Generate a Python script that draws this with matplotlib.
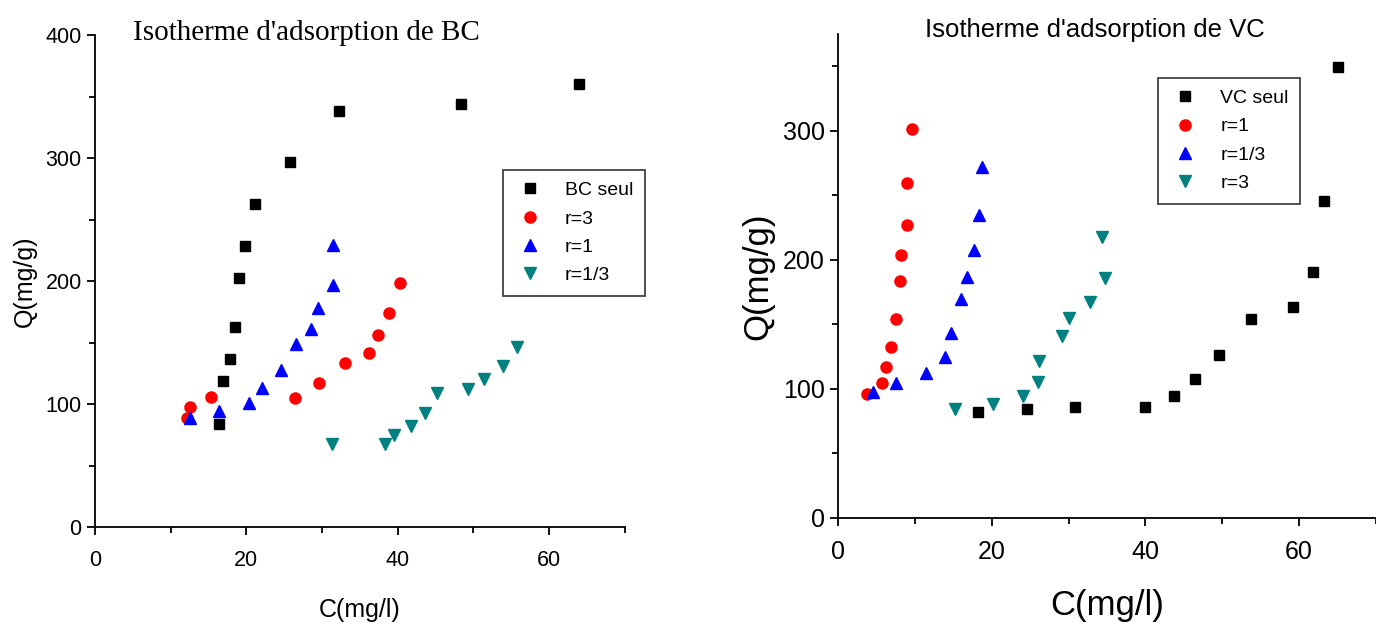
import matplotlib
matplotlib.use("Agg")
import matplotlib.pyplot as plt
from matplotlib.ticker import MultipleLocator

plt.rcParams['font.family'] = ['Liberation Sans', 'DejaVu Sans']

# --- BC isotherm (left panel) ---
bc_seul_c = [16.4, 16.9, 17.9, 18.5, 19.0, 19.8, 21.2, 25.8, 32.3, 48.4, 64.0]
bc_seul_q = [83.8, 118.9, 137, 163, 202.4, 228.9, 262.4, 296.5, 338.6, 343.8, 360.3]
bc_r3_c = [12.1, 12.6, 15.4, 26.5, 29.6, 33.1, 36.2, 37.4, 38.9, 40.3]
bc_r3_q = [88.6, 97.8, 105.9, 105.4, 117.6, 133.8, 141.9, 156.5, 174.3, 198.6]
bc_r1_c = [12.6, 16.4, 20.3, 22.1, 24.6, 26.6, 28.6, 29.5, 31.5, 31.5]
bc_r1_q = [89.2, 94.6, 101.4, 113.5, 127.6, 148.6, 160.8, 178.1, 197.3, 229.7]
bc_r13_c = [31.3, 38.3, 39.5, 41.8, 43.6, 45.2, 49.3, 51.4, 53.9, 55.8]
bc_r13_q = [67.6, 67.6, 75.1, 82.4, 93.2, 108.9, 112.2, 120.8, 131.1, 146.8]

# --- VC isotherm (right panel) ---
vc_seul_c = [18.2, 24.6, 30.9, 40.0, 43.7, 46.4, 49.6, 53.7, 59.2, 61.8, 63.2, 65.1]
vc_seul_q = [82.0, 84.3, 86.3, 85.8, 94.1, 107.5, 126.3, 154.1, 163.4, 190.5, 245.4, 349.7]
vc_r1_c = [3.8, 5.7, 6.2, 6.9, 7.5, 8.1, 8.2, 9.0, 9.0, 9.6]
vc_r1_q = [96.1, 104.6, 117.0, 132.7, 154.1, 183.5, 203.6, 227.3, 259.5, 301.0]
vc_r13_c = [4.5, 7.5, 11.5, 13.9, 14.7, 16.0, 16.8, 17.7, 18.4, 18.7]
vc_r13_q = [97.2, 104.4, 112.1, 124.5, 143.6, 169.3, 186.3, 207.5, 234.5, 271.9]
vc_r3_c = [15.2, 20.2, 24.1, 26.0, 26.2, 29.2, 30.1, 32.8, 34.8, 34.4]
vc_r3_q = [84.3, 88.4, 94.6, 104.9, 121.9, 141.0, 154.6, 167.0, 185.6, 217.8]

teal = '#008080'

fig = plt.figure(figsize=(13.76, 6.27), dpi=100)
ax1 = fig.add_axes([0.069, 0.159, 0.385, 0.785])
ax2 = fig.add_axes([0.609, 0.174, 0.391, 0.772])


def style_axes(ax, ylim, tick_size, lab_size, xpad, lpad):
    ax.spines['top'].set_visible(False)
    ax.spines['right'].set_visible(False)
    ax.spines['left'].set_linewidth(1.3)
    ax.spines['bottom'].set_linewidth(1.3)
    ax.set_xlim(0, 70)
    ax.set_ylim(0, ylim)
    ax.xaxis.set_major_locator(MultipleLocator(20))
    ax.xaxis.set_minor_locator(MultipleLocator(10))
    ax.yaxis.set_major_locator(MultipleLocator(100))
    ax.yaxis.set_minor_locator(MultipleLocator(50))
    ax.tick_params(which='major', direction='out', length=6, width=1.3,
                   labelsize=tick_size)
    ax.tick_params(axis='x', which='major', pad=xpad)
    ax.tick_params(which='minor', direction='out', length=4, width=1.3)
    ax.set_xlabel('C(mg/l)', fontsize=lab_size, labelpad=lpad)
    ax.set_ylabel('Q(mg/g)', fontsize=lab_size, labelpad=6)


style_axes(ax1, 400, 15.5, 18, 10, 20)
style_axes(ax2, 375, 18, 25, 10, 18)

ms = 7
ax1.plot(bc_seul_c, bc_seul_q, 's', color='black', ms=ms, label='BC seul')
ax1.plot(bc_r3_c, bc_r3_q, 'o', color='red', ms=ms + 1, label='r=3')
ax1.plot(bc_r1_c, bc_r1_q, '^', color='blue', ms=ms + 1, label='r=1')
ax1.plot(bc_r13_c, bc_r13_q, 'v', color=teal, ms=ms + 1, label='r=1/3')

ax2.plot(vc_seul_c, vc_seul_q, 's', color='black', ms=ms, label='VC seul')
ax2.plot(vc_r1_c, vc_r1_q, 'o', color='red', ms=ms + 1, label='r=1')
ax2.plot(vc_r13_c, vc_r13_q, '^', color='blue', ms=ms + 1, label='r=1/3')
ax2.plot(vc_r3_c, vc_r3_q, 'v', color=teal, ms=ms + 1, label='r=3')

for ax, anchor in [(ax1, (0.77, 0.726)), (ax2, (0.595, 0.909))]:
    leg = ax.legend(loc='upper left', bbox_to_anchor=anchor, borderaxespad=0,
                    fontsize=14, fancybox=False, framealpha=1,
                    edgecolor='#333333', handletextpad=1.0, labelspacing=0.55,
                    borderpad=0.6, handlelength=1.6)
    leg.get_frame().set_linewidth(1.2)

fig.text(0.223, 0.947, "Isotherme d'adsorption de BC", ha='center', va='center',
         fontsize=21, family='Liberation Serif')
fig.text(0.796, 0.952, "Isotherme d'adsorption de VC", ha='center', va='center',
         fontsize=18.5)

fig.savefig('out.png', dpi=100)
